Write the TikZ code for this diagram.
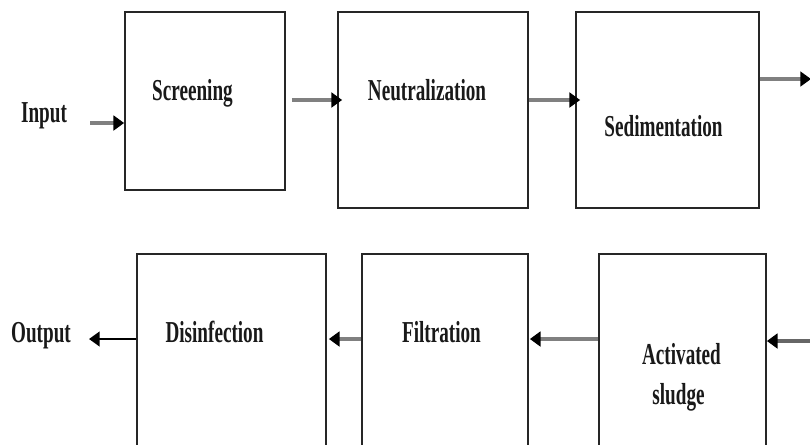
\documentclass[tikz,border=0pt]{standalone}
\usepackage{fontspec}
\setmainfont{Liberation Serif}[FakeStretch=0.63]
\usetikzlibrary{arrows.meta,calc}
\tikzset{
  blk/.style={draw=black!85, line width=1.3pt, inner sep=0pt, fill=white},
  lbl/.style={font=\fontsize{22.8}{30}\selectfont\bfseries, inner sep=0pt, anchor=base, text=black!90},
  tip/.style={-{Triangle[length=8pt,width=11pt,color=black]}},
  arr/.style={tip, draw=black!50, line width=2.6pt},
  arrk/.style={tip, draw=black, line width=1.6pt},
}
\begin{document}
\begin{tikzpicture}[x=0.75pt,y=-0.75pt]
\useasboundingbox (0,0) rectangle (810,444);
\clip (0,0) rectangle (810,444);
\fill[white] (0,0) rectangle (810,444);
% top row boxes
\node[blk, minimum width=160*0.75pt, minimum height=178*0.75pt] (scr) at (205,101) {};
\node[blk, minimum width=190*0.75pt, minimum height=196*0.75pt] (neu) at (433,110) {};
\node[blk, minimum width=183*0.75pt, minimum height=196*0.75pt] (sed) at (667.5,110) {};
% bottom row boxes (cut by lower edge)
\node[blk, minimum width=189*0.75pt, minimum height=220*0.75pt] (dis) at (231.5,364) {};
\node[blk, minimum width=166*0.75pt, minimum height=220*0.75pt] (fil) at (445,364) {};
\node[blk, minimum width=167*0.75pt, minimum height=220*0.75pt] (act) at (682.5,364) {};
% texts
\node[lbl] (inp) at (44,122) {Input};
\node[lbl] (tscr) at (192.5,100) {Screening};
\node[lbl] (tneu) at (427,100) {Neutralization};
\node[lbl] (tsed) at (663.5,136) {Sedimentation};
\node[lbl] (outp) at (41,342) {Output};
\node[lbl] (tdis) at (214.5,342) {Disinfection};
\node[lbl] (tfil) at (441.5,342) {Filtration};
\node[lbl] (tact1) at (681.5,364) {Activated};
\node[lbl] (tact2) at (678.5,404) {sludge};
% free ends
\coordinate (inA) at (90,123);
\coordinate (outE) at (811,79);
\coordinate (inB) at (812,341);
\coordinate (outB) at (89,339);
% connectors
\draw[arr] (inA) -- (inA -| scr.west);
\draw[arr] ($(scr.east)+(6,-1)$) -- ($(neu.west)+(5,-10)$);
\draw[arr] ($(neu.east)+(0,-10)$) -- ($(sed.west)+(5,-10)$);
\draw[arr] (sed.east |- outE) -- (outE);
\draw[arr, draw=black!60] (inB) -- (inB -| act.east);
\draw[arr] (act.west |- 0,339) -- ($(fil.east |- 0,339)+(1,0)$);
\draw[arr] (fil.west |- 0,339) -- ($(dis.east |- 0,339)+(2,0)$);
\draw[arrk] (dis.west |- outB) -- (outB);
\end{tikzpicture}
\end{document}
